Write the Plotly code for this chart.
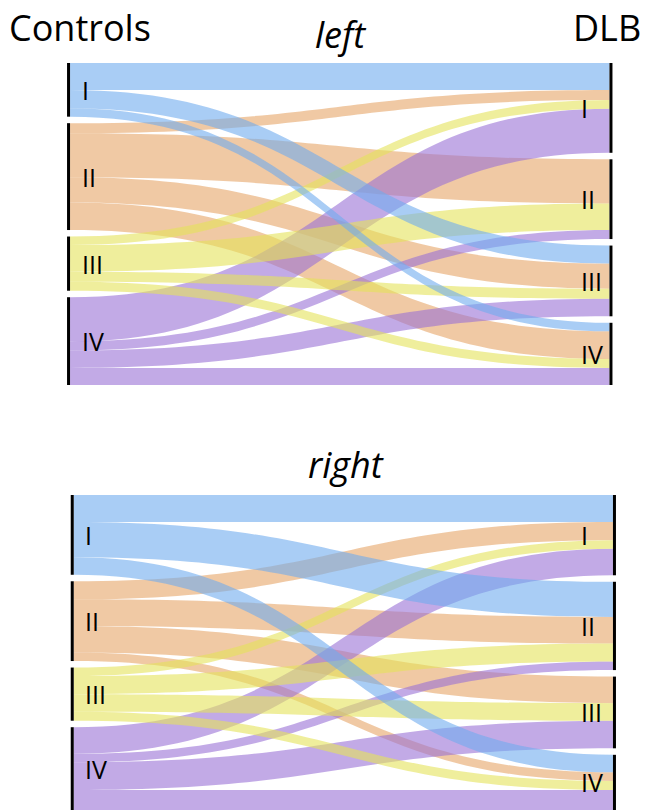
import plotly.graph_objects as go

# ---------------- data ----------------
stages = ["I", "II", "III", "IV"]
group_left_title = "Controls"
group_right_title = "DLB"
panel_titles = ["left", "right"]

# left hemisphere: Controls stage -> DLB stage (listed in drawing order: II, IV, III, I)
left_source = [1, 1, 1, 1, 3, 3, 3, 3, 2, 2, 2, 2, 0, 0, 0]
left_target = [0, 1, 2, 3, 0, 1, 2, 3, 0, 1, 2, 3, 0, 2, 3]
left_values = [10, 44, 25, 27.5, 44, 9, 17.5, 17, 8.5, 26.5, 10, 9, 27, 18, 8.5]

# right hemisphere
right_source = [1, 1, 1, 1, 3, 3, 3, 3, 2, 2, 2, 2, 0, 0, 0]
right_target = [0, 1, 2, 3, 0, 1, 2, 3, 0, 1, 2, 3, 0, 1, 3]
right_values = [18, 26.5, 26.5, 8.5, 26.5, 8.5, 27.5, 20, 8.5, 18, 17.5, 9, 27, 35, 17.5]

stage_colors = ["rgba(112,172,238,0.6)", "rgba(230,165,103,0.6)",
                "rgba(228,227,90,0.6)", "rgba(153,113,213,0.6)"]

# ---------------- layout helpers ----------------
W, H = 646, 810
PAD = 6.5
THICK = 3
label_font = dict(family="Open Sans", size=25, color="black")
title_font = dict(family="Open Sans", size=36, color="black")

panels = [
    dict(src=left_source, tgt=left_target, val=left_values,
         x0=68, x1=611.5, y0=63, y1=385, title=panel_titles[0], title_y=35, title_x=340,
         lab_l=80, lab_r=579),
    dict(src=right_source, tgt=right_target, val=right_values,
         x0=71.7, x1=615, y0=495, y1=810, title=panel_titles[1], title_y=464, title_x=346,
         lab_l=83, lab_r=579),
]


def node_centres(src, tgt, val, hpx):
    out = [sum(v for s, v in zip(src, val) if s == i) for i in range(len(stages))]
    inn = [sum(v for t, v in zip(tgt, val) if t == i) for i in range(len(stages))]
    total = max(sum(out), sum(inn))
    ky = (hpx - (len(stages) - 1) * PAD) / total

    def centres(sizes):
        ys, acc = [], 0.0
        for s in sizes:
            ys.append((acc + s * ky / 2) / hpx)
            acc += s * ky + PAD
        return ys

    return centres(out), centres(inn)


fig = go.Figure()
annotations = []
for p in panels:
    hpx = p["y1"] - p["y0"]
    yl, yr = node_centres(p["src"], p["tgt"], p["val"], hpx)
    fig.add_trace(go.Sankey(
        arrangement="fixed",
        domain=dict(x=[p["x0"] / W, p["x1"] / W], y=[1 - p["y1"] / H, 1 - p["y0"] / H]),
        node=dict(
            label=["", "", "", "", "", "", "", ""],
            x=[0.001] * 4 + [0.999] * 4,
            y=yl + yr,
            pad=PAD,
            thickness=THICK,
            color="black",
            line=dict(width=0),
        ),
        link=dict(
            source=p["src"],
            target=[t + 4 for t in p["tgt"]],
            value=p["val"],
            color=[stage_colors[s] for s in p["src"]],
        ),
        hoverinfo="none",
    ))
    for i, st in enumerate(stages):
        annotations.append(dict(text=st, x=p["lab_l"] / W, xanchor="left",
                                y=1 - (p["y0"] + yl[i] * hpx) / H, yanchor="middle",
                                xref="paper", yref="paper", showarrow=False, font=label_font))
        annotations.append(dict(text=st, x=p["lab_r"] / W, xanchor="left",
                                y=1 - (p["y0"] + yr[i] * hpx) / H, yanchor="middle",
                                xref="paper", yref="paper", showarrow=False, font=label_font))
    annotations.append(dict(text="<i>" + p["title"] + "</i>", x=p["title_x"] / W, xanchor="center",
                            y=1 - p["title_y"] / H, yanchor="middle",
                            xref="paper", yref="paper", showarrow=False, font=title_font))

annotations.append(dict(text=group_left_title, x=7 / W, xanchor="left", y=1 - 28 / H, yanchor="middle",
                        xref="paper", yref="paper", showarrow=False, font=title_font))
annotations.append(dict(text=group_right_title, x=643 / W, xanchor="right", y=1 - 28 / H, yanchor="middle",
                        xref="paper", yref="paper", showarrow=False, font=title_font))

fig.update_layout(
    width=W, height=H,
    margin=dict(l=0, r=0, t=0, b=0),
    paper_bgcolor="white",
    plot_bgcolor="white",
    annotations=annotations,
)

fig.write_html("out.html",
               config={"displayModeBar": False},
               post_script="document.body.style.margin='0px';document.body.style.overflow='hidden';")
